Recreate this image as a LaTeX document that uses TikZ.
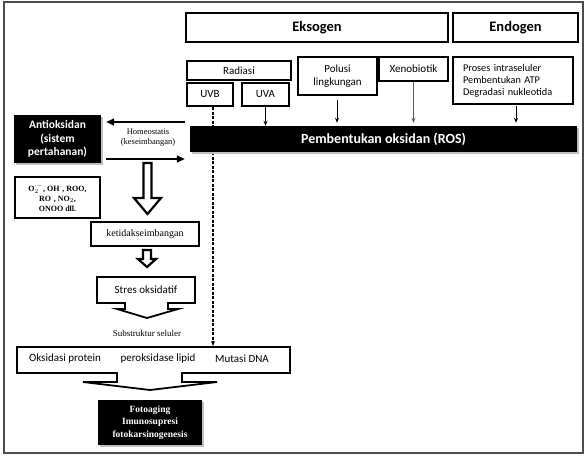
\documentclass[tikz,border=0pt]{standalone}
\usepackage{fontspec}
\setmainfont{Liberation Serif}
\newfontfamily\sansf{Carlito}
\usetikzlibrary{arrows.meta,shadows}
\begin{document}
\begin{tikzpicture}[x=1pt,y=-1pt,
  box/.style={draw, line width=2.4pt, fill=white, inner sep=1pt, align=center,
    font=\sansf\fontsize{11}{12.5}\selectfont},
  blk/.style={fill=black, text=white, inner sep=1pt, align=center,
    drop shadow={shadow xshift=2pt, shadow yshift=-2pt, fill=black!25, opacity=1}},
  thinarr/.style={-{Stealth[length=5pt,width=4pt]}, line width=0.9pt},
  harrow/.style={-{Triangle[length=8pt,width=7pt]}, line width=1.6pt},
  hollow/.style={draw, line width=2.2pt, fill=white, line join=miter},
  callout/.style={draw, line width=1.8pt, fill=white, line join=miter},
  sertext/.style={font=\fontsize{9}{10.5}\selectfont, align=center, inner sep=0pt},
  santext/.style={font=\sansf\fontsize{11}{12.5}\selectfont, inner sep=0pt}
]
\fill[white] (0,0) rectangle (585,457);
\useasboundingbox (0,0) rectangle (585,457);
\draw[gray!60!black, line width=1.2pt] (4,2) rectangle (583,453);

% top row
\node[box, minimum width=262pt, minimum height=29pt,
  font=\sansf\bfseries\fontsize{14.5}{16}\selectfont] (eks) at (317,27.5) {Eksogen};
\node[box, minimum width=125pt, minimum height=29pt,
  font=\sansf\bfseries\fontsize{14.5}{16}\selectfont] (endo) at (515.5,27.5) {Endogen};

% sources
\node[box, minimum width=104pt, minimum height=19pt] (rad) at (239,70.5) {Radiasi};
\node[box, minimum width=46pt, minimum height=23pt] (uvb) at (210,94.5) {UVB};
\node[box, minimum width=47pt, minimum height=23pt] (uva) at (265.5,94.5) {UVA};
\node[box, minimum width=79pt, minimum height=38pt] (pol) at (337.5,76) {Polusi\\lingkungan};
\node[box, minimum width=69pt, minimum height=24pt] (xen) at (413.5,69) {Xenobiotik};
\node[box, minimum width=120pt, minimum height=47pt, text width=100pt, align=left,
  font=\sansf\fontsize{10.3}{12}\selectfont] (endl) at (513,80.5)
  {Proses intraseluler\\Pembentukan ATP\\Degradasi nukleotida};

% dashed UVB line (behind the ROS bar)
\coordinate (mut) at (213,346);
\draw[-{Stealth[length=5pt,width=4pt]}, line width=1.2pt, dash pattern=on 3pt off 1.5pt]
  (uvb.south -| mut) -- (mut);

% ROS bar
\node[blk, minimum width=387pt, minimum height=26pt,
  font=\sansf\bfseries\fontsize{14}{15}\selectfont] (ros) at (383.5,139) {Pembentukan oksidan (ROS)};

% arrows into ROS
\draw[thinarr] (uva.south) -- (uva.south |- ros.north);
\coordinate (polb) at (337,100);
\draw[thinarr, shorten >=3pt] (polb) -- (polb |- ros.north);
\draw[thinarr, gray!70!black, shorten >=3pt] (xen.south) -- (xen.south |- ros.north);
\coordinate (endb) at (516,106);
\draw[thinarr, shorten >=3pt] (endb) -- (endb |- ros.north);

% antioxidant side
\node[blk, minimum width=87pt, minimum height=48pt,
  font=\sansf\bfseries\fontsize{11.5}{13.5}\selectfont] (anti) at (57.5,139)
  {Antioksidan\\(sistem\\pertahanan)};
\draw[harrow, shorten <=5pt, shorten >=5pt] (ros.west |- 0,122) -- (anti.east |- 0,122);
\draw[harrow, shorten <=5pt, shorten >=5pt] (anti.east |- 0,159) -- (ros.west |- 0,159);
\node[sertext, font=\fontsize{8.5}{10}\selectfont] (homeo) at (148,138) {Homeostatis\\(keseimbangan)};

\node[box, minimum width=85pt, minimum height=41pt,
  font=\bfseries\fontsize{8}{10}\selectfont] (chem) at (57.5,197.5)
  {O$_2^{\cdot -}$, OH$^{\cdot}$, ROO,\\RO$^{\cdot}$, NO$_2$,\\ONOO dll.};

% hollow arrow 1
\draw[hollow] (143.5,163) -- (151.5,163) -- (151.5,198) -- (161,198) -- (147.5,214)
  -- (134,198) -- (143.5,198) -- cycle;

\node[box, minimum width=108pt, minimum height=24pt,
  font=\fontsize{10}{12}\selectfont] (ket) at (145,234) {ketidakseimbangan};

% hollow arrow 2
\draw[hollow] (143,250) -- (151,250) -- (151,259) -- (156,259) -- (147,267)
  -- (138,259) -- (143,259) -- cycle;

% Stres oksidatif callout
\draw[callout] (97,277) -- (195,277) -- (195,303) -- (168,303) -- (168,309) -- (178,309)
  -- (147,318) -- (117,309) -- (125,309) -- (125,303) -- (97,303) -- cycle;
\node[santext] (stres) at (146,290) {Stres oksidatif};

\node[sertext] (sub) at (147,333) {Substruktur seluler};

% cellular substructure callout
\draw[callout] (17,347) -- (290,347) -- (290,373) -- (182,373) -- (182,382) -- (217,382)
  -- (150,390) -- (83,382) -- (117,382) -- (117,373) -- (17,373) -- cycle;
\node[santext] (prot) at (65,359) {Oksidasi protein};
\node[santext] (lip) at (158,359) {peroksidase lipid};
\node[santext] (dna) at (242,359) {Mutasi DNA};

\node[blk, minimum width=104pt, minimum height=45pt,
  font=\bfseries\fontsize{9.5}{12.5}\selectfont] (foto) at (150,422.5)
  {Fotoaging\\Imunosupresi\\fotokarsinogenesis};
\end{tikzpicture}
\end{document}
